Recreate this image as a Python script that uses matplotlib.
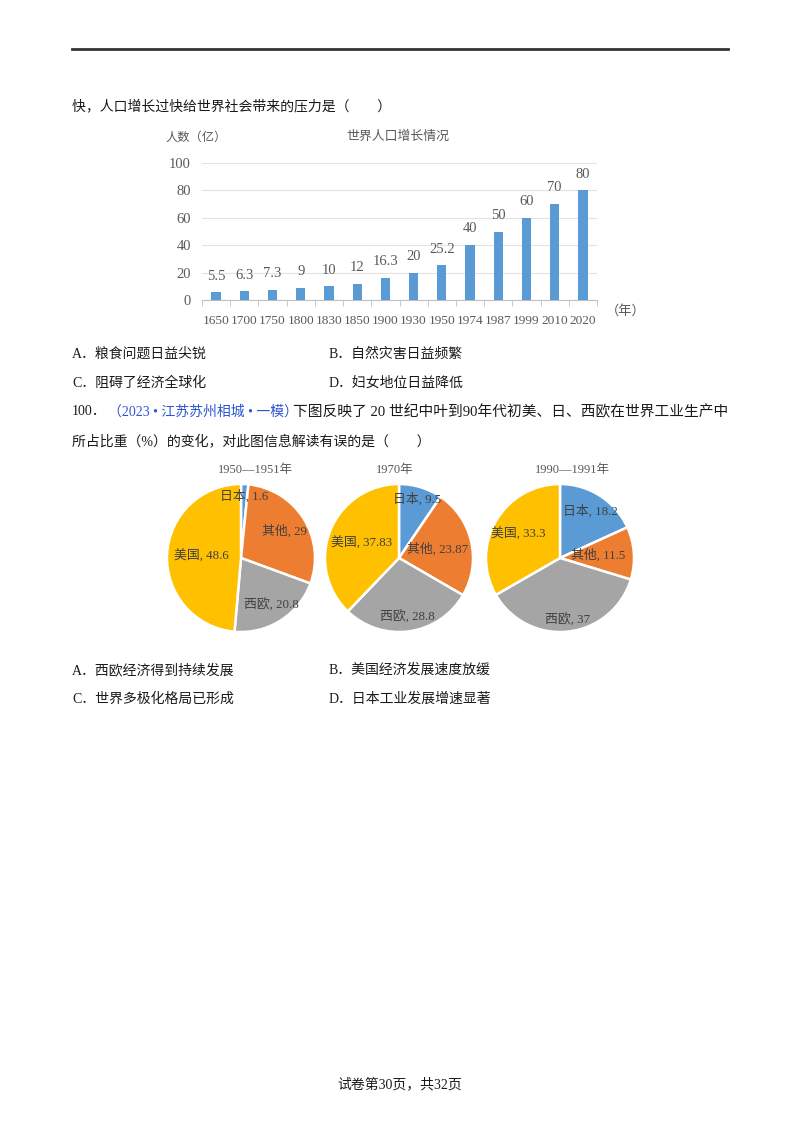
import numpy as np
import matplotlib
matplotlib.use("Agg")
import matplotlib.pyplot as plt

plt.rcParams['font.family'] = ['Liberation Serif', 'Noto Sans CJK SC', 'DejaVu Sans']

# bar chart data
years = ['1650', '1700', '1750', '1800', '1830', '1850', '1900', '1930',
         '1950', '1974', '1987', '1999', '2010', '2020']
population = [5.5, 6.3, 7.3, 9, 10, 12, 16.3, 20, 25.2, 40, 50, 60, 70, 80]
pop_labels = ['5.5', '6.3', '7.3', '9', '10', '12', '16.3', '20', '25.2',
              '40', '50', '60', '70', '80']
y_ticks = [0, 20, 40, 60, 80, 100]

# pie chart data
regions = ['日本', '其他', '西欧', '美国']
pie_titles = ['1950—1951年', '1970年', '1990—1991年']
share_1950 = [1.6, 29, 20.8, 48.6]
share_1970 = [9.5, 23.87, 28.8, 37.83]
share_1990 = [18.2, 11.5, 37, 33.3]
share_text_1950 = ['1.6', '29', '20.8', '48.6']
share_text_1970 = ['9.5', '23.87', '28.8', '37.83']
share_text_1990 = ['18.2', '11.5', '37', '33.3']

W, H = 800, 1132
fig = plt.figure(figsize=(W / 100, H / 100), dpi=100)


def fx(x):
    return x / W


def fy(y):
    return 1 - y / H


def page_text(x, y, s, color='#1a1a1a', size=10, **kw):
    fig.text(fx(x), fy(y), s, color=color, fontsize=size, va='center', ha='left', **kw)


# header rule
fig.add_artist(plt.Line2D([fx(72), fx(728)], [fy(49), fy(49)], color='#333333', lw=2))

page_text(72, 106, '快，人口增长过快给世界社会带来的压力是（　　）')

# ---- bar chart ----
gray = '#595959'
ax = fig.add_axes([fx(202), fy(300), (597 - 202) / W, (300 - 163) / H])
xpos = np.arange(len(years))
bars = ax.bar(xpos, population, width=0.33, color='#5b9bd5', zorder=3)
ax.bar_label(bars, labels=pop_labels, padding=7, fontsize=10.5, color=gray)
ax.set_xlim(-0.5, len(years) - 0.5)
ax.set_ylim(0, 100)
ax.set_yticks(y_ticks)
ax.set_yticklabels([str(v) for v in y_ticks], fontsize=10.5, color=gray)
ax.set_xticks(xpos)
ax.set_xticklabels(years, fontsize=9.6, color=gray)
ax.set_xticks(np.arange(len(years) + 1) - 0.5, minor=True)
ax.tick_params(axis='x', which='major', length=0, pad=11)
ax.tick_params(axis='x', which='minor', length=4, color='#bfbfbf')
ax.tick_params(axis='y', length=0, pad=8)
ax.grid(axis='y', color='#e3e3e3', lw=0.8, zorder=0)
for s in ['top', 'right', 'left']:
    ax.spines[s].set_visible(False)
ax.spines['bottom'].set_color('#bfbfbf')
ax.set_facecolor('none')

page_text(165, 138, '人数（亿）', color=gray, size=8.8)
fig.text(fx(398), fy(137), '世界人口增长情况', color=gray, fontsize=9.3, ha='center', va='center')
page_text(606, 311, '（年）', color=gray, size=9.5)

# options
page_text(72, 354, 'A．粮食问题日益尖锐')
page_text(329, 354, 'B．自然灾害日益频繁')
page_text(72, 383, 'C．阻碍了经济全球化')
page_text(329, 383, 'D．妇女地位日益降低')

page_text(72, 412, '100．')
page_text(108, 412, '（2023 • 江苏苏州相城 • 一模）', color='#2f55d4')
page_text(293, 412, '下图反映了 20 世纪中叶到90年代初美、日、西欧在世界工业生产中', size=10.6)
page_text(72, 442, '所占比重（%）的变化，对此图信息解读有误的是（　　）')

# ---- pie charts ----
pie_colors = ['#5b9bd5', '#ed7d31', '#a5a5a5', '#ffc000']
pie_data = [share_1950, share_1970, share_1990]
pie_text = [share_text_1950, share_text_1970, share_text_1990]
label_dist = [[0.84, 0.69, 0.76, 0.54],
              [0.83, 0.53, 0.81, 0.55],
              [0.76, 0.51, 0.84, 0.65]]
centers = [241, 399, 560]
title_x = [255, 395, 572]
cy, r = 558, 74

for i in range(3):
    pax = fig.add_axes([fx(centers[i] - r), fy(cy + r), 2 * r / W, 2 * r / H])
    wedges, _ = pax.pie(pie_data[i], colors=pie_colors, startangle=90, counterclock=False,
                        wedgeprops=dict(edgecolor='white', linewidth=1.8))
    for j, w in enumerate(wedges):
        mid = np.deg2rad((w.theta1 + w.theta2) / 2)
        d = label_dist[i][j]
        pax.text(d * np.cos(mid), d * np.sin(mid), regions[j] + ', ' + pie_text[i][j],
                 ha='center', va='center', fontsize=9.3, color='#404040')
    pax.set_xlim(-1, 1)
    pax.set_ylim(-1, 1)
    pax.axis('off')
    fig.text(fx(title_x[i]), fy(470), pie_titles[i], color=gray, fontsize=9,
             ha='center', va='center')

page_text(72, 670, 'A．西欧经济得到持续发展')
page_text(329, 670, 'B．美国经济发展速度放缓')
page_text(72, 699, 'C．世界多极化格局已形成')
page_text(329, 699, 'D．日本工业发展增速显著')

fig.text(0.5, fy(1084), '试卷第30页，共32页', color='#1a1a1a', fontsize=10, ha='center', va='center')

fig.savefig('out.png', dpi=100)
